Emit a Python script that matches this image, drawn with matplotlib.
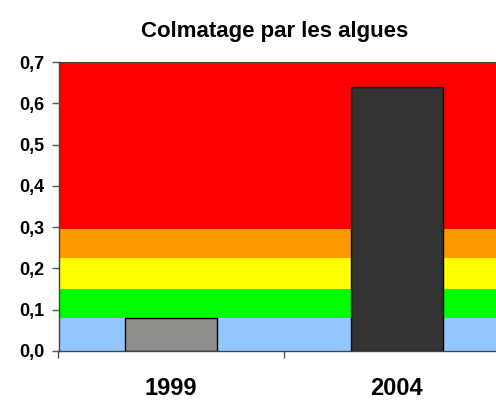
# -*- coding: utf-8 -*-
import matplotlib
matplotlib.use("Agg")
import matplotlib.pyplot as plt

# données
annees = ["1999", "2004"]
valeurs = [0.08, 0.64]
couleurs_barres = ["#8f8f8d", "#333333"]

# classes de qualité (bornes basses / hautes)
classes_bas = [0.0, 0.08, 0.15, 0.225, 0.295]
classes_haut = [0.08, 0.15, 0.225, 0.295, 0.7]
classes_couleurs = ["#93c5ff", "#00ff00", "#ffff00", "#ff9900", "#ff0000"]

y_ticks = [0.0, 0.1, 0.2, 0.3, 0.4, 0.5, 0.6, 0.7]

plt.rcParams['font.family'] = ['Liberation Sans', 'DejaVu Sans']

fig = plt.figure(figsize=(4.96, 4.01), dpi=100)
ax = fig.add_axes([58.5 / 496, 1 - 351 / 401, (509.5 - 58.5) / 496, (351 - 62) / 401])

for bas, haut, c in zip(classes_bas, classes_haut, classes_couleurs):
    ax.axhspan(bas, haut, color=c, lw=0, zorder=0)

x = list(range(len(annees)))
ax.bar(x, valeurs, width=0.41, color=couleurs_barres, edgecolor="black", linewidth=1, zorder=2)

ax.set_xlim(-0.5, 1.5)
ax.set_ylim(0, 0.7)
ax.set_yticks(y_ticks)
ax.set_yticklabels([("%.1f" % v).replace(".", ",") for v in y_ticks],
                   fontsize=13, fontweight="bold")

# graduations entre les catégories, étiquettes centrées
ax.set_xticks([-0.5, 0.5, 1.5])
ax.set_xticklabels([])
ax.set_xticks(x, minor=True)
ax.set_xticklabels(annees, minor=True, fontsize=17, fontweight="bold")
ax.tick_params(axis="x", which="minor", length=0, pad=19)
ax.tick_params(axis="x", which="major", length=5, width=1, color="#555555")
ax.tick_params(axis="y", length=5, width=1, color="#555555", pad=5)

for s in ["left", "bottom", "top"]:
    ax.spines[s].set_color("#444444")
    ax.spines[s].set_linewidth(1)
ax.spines["top"].set_linewidth(0.8)
ax.spines["right"].set_visible(False)

fig.text(275 / 496, 1 - 31 / 401, "Colmatage par les algues", ha="center", va="center",
         fontsize=16, fontweight="bold")

fig.savefig("out.png", dpi=100)
